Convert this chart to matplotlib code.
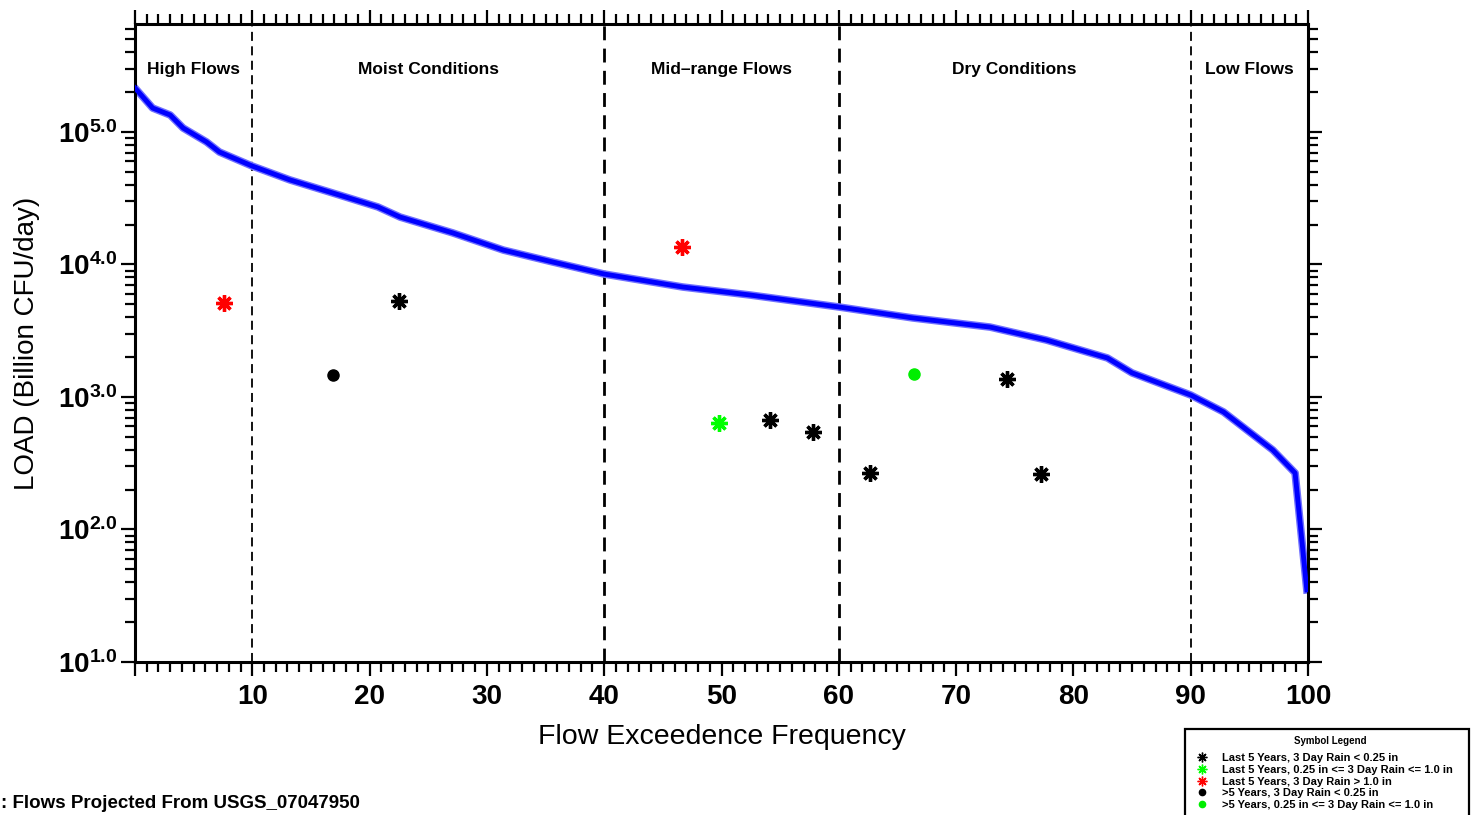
import matplotlib
matplotlib.use("Agg")
import matplotlib.pyplot as plt
from matplotlib.lines import Line2D
from matplotlib.patches import Rectangle
from matplotlib.ticker import FixedLocator, LogLocator, NullFormatter

plt.rcParams['font.family'] = ['Liberation Sans', 'DejaVu Sans']

# Load duration curve (flow exceedence %, load in billion CFU/day)
curve_pct = [0, 1.5, 3.0, 4.1, 6.1, 7.2, 10.0, 13.2, 16.6, 20.7, 22.6, 27.1, 31.4,
             35.6, 40.0, 46.7, 52.4, 60.0, 66.3, 72.9, 77.7, 82.9, 85.0, 90.0,
             92.8, 97.0, 98.9, 99.9]
curve_load = [214800, 151700, 134300, 107200, 84100, 70600, 55300, 43500, 35200,
              27200, 22800, 17300, 12850, 10450, 8470, 6760, 5890, 4780, 3950,
              3370, 2690, 1970, 1520, 1035, 771, 398, 267, 35]

# Observed samples
recent_dry_pct = [22.5, 54.1, 57.8, 62.7, 74.3, 77.2]
recent_dry_load = [5310, 670, 545, 267, 1368, 262]
recent_mid_pct = [49.8]
recent_mid_load = [637]
recent_wet_pct = [7.6, 46.6]
recent_wet_load = [5120, 13550]
older_dry_pct = [16.9]
older_dry_load = [1466]
older_mid_pct = [66.4]
older_mid_load = [1493]

zone_bounds = [10, 40, 60, 90]
zone_names = ["High Flows", "Moist Conditions", "Mid\u2013range Flows",
              "Dry Conditions", "Low Flows"]
zone_centers = [5, 25, 50, 75, 95]

legend_labels = [
    "Last 5 Years, 3 Day Rain < 0.25 in",
    "Last 5 Years, 0.25 in <= 3 Day Rain <= 1.0 in",
    "Last 5 Years, 3 Day Rain > 1.0 in",
    ">5 Years, 3 Day Rain < 0.25 in",
    ">5 Years, 0.25 in <= 3 Day Rain <= 1.0 in",
]

W, H = 1471, 815
fig = plt.figure(figsize=(W / 100, H / 100), dpi=100)
ax = fig.add_axes([135 / W, 1 - 662 / H, (1308 - 135) / W, (662 - 24) / H])

ax.set_yscale('log')
ax.set_xlim(0, 100)
ax.set_ylim(10, 10 ** 5.815)

# zone dividers
for b in zone_bounds:
    lw = 2.0 if b in (40, 60) else 1.3
    ax.axvline(b, color='black', lw=lw, ls=(0, (5, 3)), zorder=1)

for name, c in zip(zone_names, zone_centers):
    ax.text(c, 0.928, name, transform=ax.get_xaxis_transform(), ha='center',
            va='center', fontsize=12.5, fontweight='bold')

# duration curve
ax.plot(curve_pct, curve_load, color='#7070ff', lw=5.5, solid_joinstyle='round', zorder=2)
ax.plot(curve_pct, curve_load, color='#0000ff', lw=3.5, solid_joinstyle='round', zorder=3)

ast = (8, 2, 0)
ms_a, mew_a = 12, 2.4
ax.plot(recent_dry_pct, recent_dry_load, ls='none', marker=ast, ms=ms_a, mew=mew_a,
        color='black', zorder=4)
ax.plot(recent_mid_pct, recent_mid_load, ls='none', marker=ast, ms=ms_a, mew=mew_a,
        color='#00ff00', zorder=4)
ax.plot(recent_wet_pct, recent_wet_load, ls='none', marker=ast, ms=ms_a, mew=mew_a,
        color='#ff0000', zorder=4)
ax.plot(older_dry_pct, older_dry_load, ls='none', marker='o', ms=8,
        color='black', zorder=4)
ax.plot(older_mid_pct, older_mid_load, ls='none', marker='o', ms=8,
        color='#00ee00', zorder=4)

# axes styling
for s in ax.spines.values():
    s.set_linewidth(2.2)
ax.xaxis.set_major_locator(FixedLocator(range(0, 101, 10)))
ax.xaxis.set_minor_locator(FixedLocator(range(0, 101, 1)))
ax.set_xticklabels([''] + [str(v) for v in range(10, 101, 10)])
ax.yaxis.set_minor_locator(LogLocator(base=10, subs=range(2, 10), numticks=20))
ax.yaxis.set_minor_formatter(NullFormatter())
ax.set_yticks([10, 100, 1000, 10000, 100000])
ax.set_yticklabels([r'$\mathregular{10^{%d.0}}$' % e for e in range(1, 6)])
ax.tick_params(which='both', direction='out', top=True, right=True, width=1.6)
ax.tick_params(which='major', length=10, labelsize=20, pad=6)
ax.tick_params(which='minor', length=7)
ax.tick_params(axis='y', which='major', pad=3)
for lbl in ax.get_xticklabels() + ax.get_yticklabels():
    lbl.set_fontweight('bold')

ax.set_xlabel("Flow Exceedence Frequency", fontsize=20.5, labelpad=10)
ax.set_ylabel("LOAD (Billion CFU/day)", fontsize=20)
ax.yaxis.set_label_coords(-0.081, 0.5)

fig.text(1 / W, 1 - 803 / H, ": Flows Projected From USGS_07047950", ha='left',
         va='center', fontsize=13.5, fontweight='bold')

# symbol legend box
fig.patches.append(Rectangle((1185 / W, -0.05), (1469 - 1185) / W, 0.05 + 1 - 729 / H,
                             transform=fig.transFigure, fill=False, ec='black',
                             lw=1.6))
fig.text(1330 / W, 1 - 741 / H, "Symbol Legend", ha='center', va='center',
         fontsize=7, fontweight='bold')
handles = [
    Line2D([], [], ls='none', marker=ast, ms=7, mew=1.0, color='black'),
    Line2D([], [], ls='none', marker=ast, ms=7, mew=1.0, color='#00ff00'),
    Line2D([], [], ls='none', marker=ast, ms=7, mew=1.0, color='#ff0000'),
    Line2D([], [], ls='none', marker='o', ms=4.5, color='black'),
    Line2D([], [], ls='none', marker='o', ms=4.5, color='#00ee00'),
]
fig.legend(handles, legend_labels, loc='upper left',
           bbox_to_anchor=(1196 / W, 1 - 753 / H), frameon=False,
           prop={'size': 8, 'weight': 'bold'}, handlelength=1.0, handletextpad=1.3,
           labelspacing=0.16, borderpad=0, borderaxespad=0)

fig.savefig("out.png", dpi=100)
